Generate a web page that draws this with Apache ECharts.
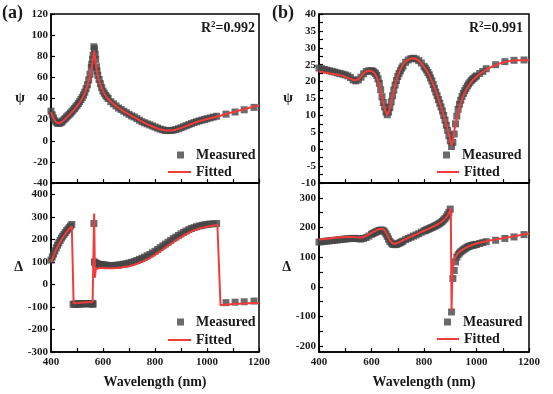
<!DOCTYPE html>
<html><head><meta charset="utf-8">
<script src="https://cdn.jsdelivr.net/npm/echarts@6/dist/echarts.min.js"></script>
<style>html,body{margin:0;padding:0;background:#fff}#c{width:553px;height:394px}</style>
</head><body><div id="c"></div>
<script>
// ---------- Panel (a) ----------
const wlMeasA = [400,405,410,415,420,425,430,435,440,445,
 450,455,460,465,470,475,480,485,490,495,
 500,505,510,515,520,525,530,535,540,545,
 550,555,557,560,562,565,567,570,572,575,
 577,580,585,590,595,600,605,610,615,620,
 630,640,650,660,670,680,690,700,710,720,
 730,740,750,760,770,780,790,800,810,820,
 830,840,850,860,870,880,890,900,910,920,
 930,940,950,960,970,980,990,1000,1012,1024,
 1037,1073,1108,1143,1181];
const psiMeasA = [28,24.5,21.5,19,17.5,16.7,16.5,16.8,17.5,18.7,
 20,21.2,22.5,23.7,25,26.2,27.5,29,30.5,32,
 33.5,35.2,37,39,41,43.3,46,49.3,53,57.5,
 63,69.5,72.5,77,81,89,87,82,77,70,
 66,62,58,54,50.3,47,45,43,41.5,40,
 37,35,33,31,29.5,28,26.5,25,23.5,22.5,
 21,19.5,18,17,16,15,14,13,12,11,
 10.3,9.8,9.6,9.7,10,10.6,11.4,12.3,13.3,14.3,
 15.3,16.3,17.2,18,18.8,19.5,20.2,20.8,21.6,22.4,
 23.2,25.2,27.2,29.3,31.6];
const deltaMeasA = [108,122,135,149,162,174,185,195,205,214,
 222,230,238,245,252,259,266,-88,-88,-87,
 -87,-87,-87,-86,-86,-86,-86,-85,-85,-85,
 -86,-86,-86,-87,-87,270,100,95,94,92,
 91,90,89,88,87,86,85.5,85,84.5,84,
 84,84,85,86,88,90,92,95,98,102,
 106,111,116,121,127,133,140,147,155,163,
 171,179,187,195,203,210,217,224,231,237,
 243,248,252,256,259,262,264,266,268,269,
 270,-81,-79,-77,-74];
const wlFitA = [400,410,420,430,440,450,460,470,480,484,
 487,490,500,510,520,530,540,550,560,563,
 566,569,572,580,590,600,610,620,630,640,
 650,660,670,680,690,700,710,720,730,740,
 750,760,770,780,790,800,810,820,830,840,
 850,860,870,880,890,900,910,920,930,940,
 950,960,970,980,990,1000,1010,1020,1030,1040,
 1046,1052,1060,1080,1100,1120,1140,1160,1180,1200];
const psiFitA = [27,21,17.5,16.5,17.5,19.5,22,24.5,27,28,
 28.8,29.7,32.7,36,40,45,52,61,74,80,
 85,80,73,61,53,47,42.5,39.5,37,34.8,
 32.8,31,29.4,27.9,26.4,25,23.6,22.3,21,19.6,
 18.2,16.9,15.7,14.6,13.5,12.5,11.6,10.8,10.2,9.8,
 9.6,9.7,10,10.5,11.2,12,12.9,13.9,14.9,15.9,
 16.8,17.7,18.5,19.2,19.9,20.5,21.1,21.7,22.3,22.9,
 23.2,23.6,24.5,25.8,27.1,28.4,29.7,31,32.3,33.5];
const deltaFitA = [100,128,155,178,198,216,232,246,258,266,
 -85,-84,-82,-81,-80,-80,-79,-79,-78,-70,
 315,30,65,72,73,73,72,72,72,72,
 73,74,75,77,79,81,84,87,91,95,
 100,105,111,117,124,131,139,147,155,163,
 171,179,187,195,202,209,216,223,229,235,
 240,244,248,251,254,256,258,260,262,263,
 264,-93,-91,-89,-87,-86,-85,-84,-83,-82];

// ---------- Panel (b) ----------
const wlMeasB = [400,410,420,430,440,450,460,470,480,490,
 500,510,520,530,540,550,560,570,580,590,
 600,605,610,615,620,625,630,635,640,645,
 650,655,660,665,670,675,680,685,690,695,
 700,705,710,715,720,730,740,750,760,770,
 780,790,800,805,810,815,820,825,830,835,
 840,845,850,855,860,865,870,875,880,885,
 890,895,900,905,910,915,920,925,930,935,
 940,945,950,955,960,965,970,975,980,985,
 990,995,1000,1012,1024,1037,1073,1108,1143,1181];
const psiMeasB = [24,23.8,23.6,23.4,23.2,23,22.8,22.6,22.4,22.2,
 22,21.7,21.2,20.5,20.2,20.5,21.3,22.3,23,23.2,
 23.2,23.1,22.8,22.4,21.8,20.8,19.5,17.6,15.5,13.8,
 12.5,11,10.2,11,12.3,14,15.8,17.5,19,20.3,
 21.5,22.4,23.2,24,24.6,25.7,26.4,26.8,26.9,26.7,
 26.2,25.5,24.5,24,23.4,22.7,22,21.1,20.2,19.1,
 18,16.9,15.8,14.7,13.6,12.5,11.3,10,8.6,7.1,
 5.6,4,2.5,0.8,2,4.5,7.5,9.8,11.8,13.3,
 14.5,15.6,16.5,17.3,18,18.7,19.3,19.8,20.3,20.7,
 21,21.4,21.7,22.4,23,23.8,25,25.9,26.3,26.4];
const deltaMeasB = [151,152,153,154,155,156,157,158,159,160,
 161,162,163,163,163,162,161,163,166,171,
 177,179.5,182,184,186,188,190,191,191,189,
 185,178,170,161,153,148,144,142.5,142,143,
 145,147,149,151.5,154,159,163,167,171,175,
 179,184,188,190,192,194,196,198,200,202,
 204,206.5,209,211.5,214,217.5,221,225.5,230,236,
 243,251,262,-85,28,55,84,100,108,113.5,
 118,121.5,125,128,131,133.5,136,137.5,139,140,
 141,142,143,146,149,152,157,163,168,176];
const wlFitB = [400,410,420,430,440,450,460,470,480,490,
 500,510,520,530,540,550,560,570,580,590,
 600,610,620,630,640,650,660,670,680,690,
 700,710,720,730,740,750,760,770,780,790,
 800,810,820,830,840,850,860,870,880,890,
 900,902,905,908,912,916,920,930,940,950,
 960,970,980,990,1000,1010,1020,1030,1040,1050,
 1060,1070,1080,1090,1100,1110,1120,1130,1140,1150,
 1160,1170,1180,1190,1200];
const psiFitB = [23,22.9,22.7,22.6,22.4,22.3,22.2,22.1,21.9,21.7,
 21.4,21.1,20.8,20.5,20.4,20.7,21.5,22.4,23,23.2,
 23.1,22.6,21.4,19,15.5,12,10,12,15.6,19,
 21.7,23.6,25,25.9,26.5,26.8,26.9,26.7,26.2,25.4,
 24.4,23.3,21.9,20.2,18.2,16,13.7,11.3,8.7,5.9,
 2.8,2,1,1.8,3.6,5.6,7.4,11,13.8,15.9,
 17.5,18.8,19.9,20.8,21.5,22.1,22.7,23.2,23.7,24.1,
 24.5,24.8,25.1,25.4,25.6,25.8,26,26.1,26.2,26.3,
 26.3,26.3,26.3,26.3,26.3];
const deltaFitB = [159,160,161,162,163,164,165,166,167,167,
 168,168,168,168,167,166,166,168,172,177,
 182,187,191,195,196,191,174,156,147,145,
 148,152,157,161,165,169,173,177,181,185,
 189,193,197,201,205,210,215,221,229,240,
 258,266,-80,40,75,92,102,113,121,127,
 132,136,140,143,146,148,150,152,154,156,
 158,159,161,162,164,165,167,168,170,171,
 173,175,177,178,180];

// tick labels
const xTicks = [400,600,800,1000,1200];
const psiTicksA = [-40,-20,0,20,40,60,80,100,120];
const deltaTicksA = [-300,-200,-100,0,100,200,300,400];
const psiTicksB = [-10,-5,0,5,10,15,20,25,30,35,40];
const deltaTicksB = [-200,-100,0,100,200,300];

const zip = (xs, ys) => xs.map((x, i) => [x, ys[i]]);
const FONT = 'Liberation Serif';
const TXT = '#1a1a1a';
const MCOL = '#454545';
const FCOL = '#f23c3c';

function xAxis(gi, showLabels) {
  return {
    type: 'value', gridIndex: gi, min: 400, max: 1200, interval: 200,
    name: showLabels ? 'Wavelength (nm)' : '', nameLocation: 'middle', nameGap: 23,
    nameTextStyle: {fontFamily: FONT, fontWeight: 'bold', fontSize: 14, color: TXT},
    axisLine: {show: true, onZero: false, lineStyle: {color: '#000', width: 1.5}},
    axisTick: {show: true, inside: true, length: 4, lineStyle: {color: '#000', width: 1.2}},
    minorTick: {show: true, splitNumber: 2, length: 4, lineStyle: {color: '#000', width: 1.2}},
    splitLine: {show: false},
    axisLabel: {show: showLabels, fontFamily: FONT, fontWeight: 'bold', fontSize: 11, color: TXT, margin: 5,
      customValues: xTicks, formatter: v => String(v)}
  };
}
function yAxis(gi, name, min, max, ticks, minorTicks) {
  return {
    type: 'value', gridIndex: gi, min: min, max: max,
    name: name, nameLocation: 'middle', nameRotate: 0, nameGap: 26,
    nameTextStyle: {fontFamily: FONT, fontWeight: 'bold', fontSize: 14, color: TXT},
    axisLine: {show: true, onZero: false, lineStyle: {color: '#000', width: 1.5}},
    axisTick: {show: true, inside: true, length: 4, lineStyle: {color: '#000', width: 1.2},
      customValues: minorTicks || ticks},
    splitLine: {show: false},
    axisLabel: {fontFamily: FONT, fontWeight: 'bold', fontSize: 11, color: TXT, margin: 3,
      customValues: ticks, formatter: v => String(v)}
  };
}
function scat(xi, data) {
  return {type: 'scatter', name: 'Measured', xAxisIndex: xi, yAxisIndex: xi, data: data,
    symbol: 'rect', symbolSize: 7, itemStyle: {color: MCOL}, z: 2, silent: true};
}
function fit(xi, data) {
  return {type: 'line', name: 'Fitted', xAxisIndex: xi, yAxisIndex: xi, data: data,
    symbol: 'none', lineStyle: {color: FCOL, width: 2}, itemStyle: {color: FCOL}, z: 3, silent: true};
}
function legendM(left, top) {
  return {show: true, selectedMode: false, left: left, top: top, padding: 0, orient: 'vertical',
    data: [{name: 'Measured', icon: 'rect'}], itemWidth: 7, itemHeight: 7,
    textStyle: {fontFamily: FONT, fontWeight: 'bold', fontSize: 14, color: TXT, padding: [0,0,0,7]}};
}
function legendF(left, top, w) {
  return {show: true, selectedMode: false, left: left, top: top, padding: 0, orient: 'vertical',
    data: [{name: 'Fitted', icon: 'rect'}], itemWidth: w, itemHeight: 2,
    itemStyle: {color: FCOL},
    textStyle: {fontFamily: FONT, fontWeight: 'bold', fontSize: 14, color: TXT}};
}
function r2(text, right) {
  return {text: '{r|R}{s|2}{r|=' + text + '}', right: right, top: 20, padding: 0,
    textStyle: {rich: {
      r: {fontFamily: FONT, fontWeight: 'bold', fontSize: 14, color: TXT},
      s: {fontFamily: FONT, fontWeight: 'bold', fontSize: 9, color: TXT, verticalAlign: 'bottom', padding: [0,0,8,0]}
    }}};
}

const chart = echarts.init(document.getElementById('c'), null, {renderer: 'canvas'});
chart.setOption({
  animation: false,
  backgroundColor: '#fff',
  title: [
    {text: '(a)', left: 2, top: 4, padding: 0, textStyle: {fontFamily: FONT, fontWeight: 'bold', fontSize: 18, color: TXT}},
    {text: '(b)', left: 272, top: 4, padding: 0, textStyle: {fontFamily: FONT, fontWeight: 'bold', fontSize: 18, color: TXT}},
    r2('0.992', 298), r2('0.991', 30)
  ],
  grid: [
    {left: 51, top: 14, width: 208, height: 169, show: true, borderColor: '#000', borderWidth: 1.5},
    {left: 51, top: 183, width: 208, height: 169, show: true, borderColor: '#000', borderWidth: 1.5},
    {left: 319, top: 14, width: 210, height: 169, show: true, borderColor: '#000', borderWidth: 1.5},
    {left: 319, top: 183, width: 210, height: 169, show: true, borderColor: '#000', borderWidth: 1.5}
  ],
  xAxis: [xAxis(0, false), xAxis(1, true), xAxis(2, false), xAxis(3, true)],
  yAxis: [
    yAxis(0, 'ψ', -40, 120, psiTicksA),
    yAxis(1, 'Δ', -300, 450, deltaTicksA),
    yAxis(2, 'ψ', -10, 40, psiTicksB, [-10,-7.5,-5,-2.5,0,2.5,5,7.5,10,12.5,15,17.5,20,22.5,25,27.5,30,32.5,35,37.5,40]),
    yAxis(3, 'Δ', -220, 350, deltaTicksB, [-200,-150,-100,-50,0,50,100,150,200,250,300])
  ],
  legend: [
    legendM(177, 148), legendF(168, 165, 23),
    legendM(177, 315), legendF(168, 333, 23),
    legendM(443, 148), legendF(437, 165, 22),
    legendM(444, 315), legendF(437, 332, 22)
  ],
  series: [
    scat(0, zip(wlMeasA, psiMeasA)), fit(0, zip(wlFitA, psiFitA)),
    scat(1, zip(wlMeasA, deltaMeasA)), fit(1, zip(wlFitA, deltaFitA)),
    scat(2, zip(wlMeasB, psiMeasB)), fit(2, zip(wlFitB, psiFitB)),
    scat(3, zip(wlMeasB, deltaMeasB)), fit(3, zip(wlFitB, deltaFitB))
  ]
});
</script>
</body></html>
